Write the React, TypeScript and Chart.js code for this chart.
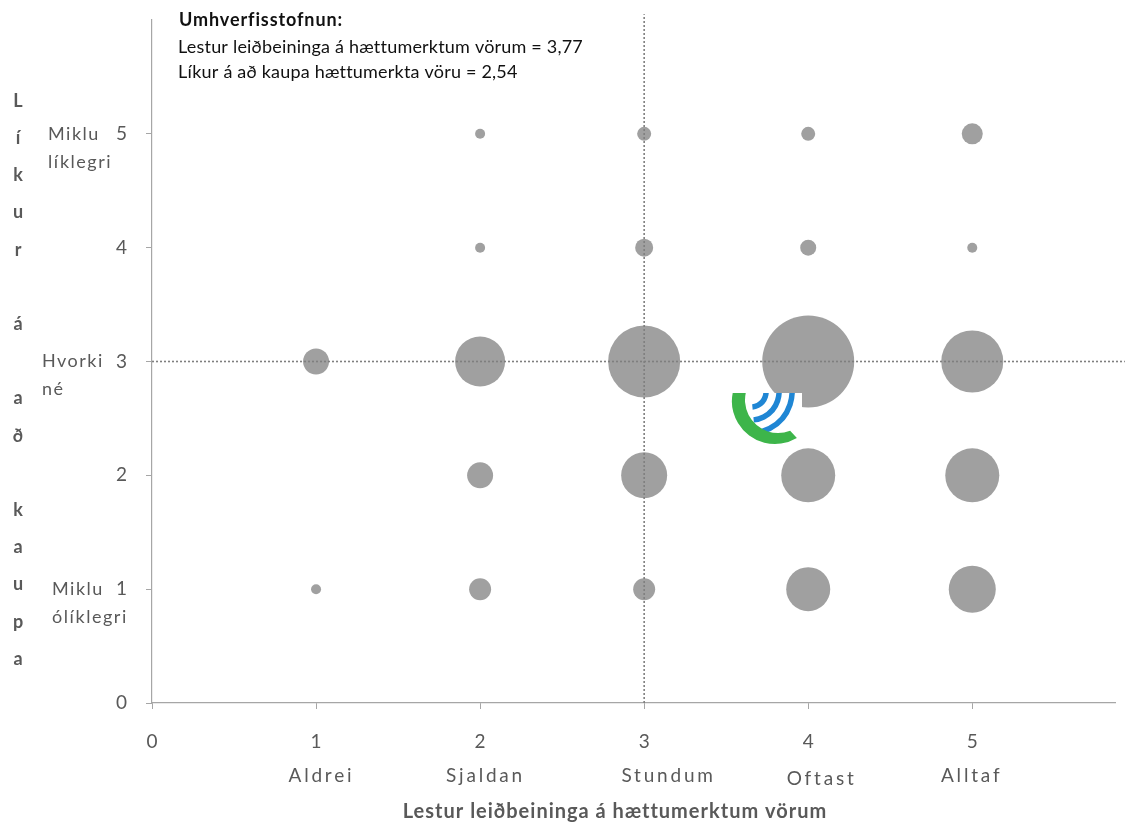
import React, { useEffect, useRef } from 'react';
import { Chart, registerables } from 'chart.js';

Chart.register(...registerables);

// ---- data ----
const readingX = [1, 1, 2, 2, 2, 2, 2, 3, 3, 3, 3, 3, 4, 4, 4, 4, 4, 5, 5, 5, 5, 5];
const buyingY = [3, 1, 5, 4, 3, 2, 1, 5, 4, 3, 2, 1, 5, 4, 3, 2, 1, 5, 4, 3, 2, 1];
const bubbleRadius = [13, 5, 5, 5, 25, 13, 11, 7, 9, 36, 23, 11, 7, 8, 46, 27, 22, 10.5, 5, 31, 27, 23.5];

const readingCategories = ['Aldrei', 'Sjaldan', 'Stundum', 'Oftast', 'Alltaf'];
const readingCategoryValues = [1, 2, 3, 4, 5];
const buyingLabelValues = [5, 3, 1];
const buyingLabelLines = [['Miklu', 'líklegri'], ['Hvorki', 'né'], ['Miklu', 'ólíklegri']];

const verticalRefX = [3, 3];
const verticalRefY = [0, 6.05];
const horizontalRefX = [0, 5.93];
const horizontalRefY = [3, 3];

const xAxisMin = 0;
const xAxisMax = 5.87;
const yAxisMin = 0;
const yAxisMax = 6;
const lastTick = 5;

const annotationTitle = 'Umhverfisstofnun:';
const annotationLines = [
  'Lestur leiðbeininga á hættumerktum vörum = 3,77',
  'Líkur á að kaupa hættumerkta vöru = 2,54',
];
const xAxisTitle = 'Lestur leiðbeininga á hættumerktum vörum';
const yAxisTitle = 'Líkur á að kaupa';

const FONT = 'Lato';
const GREY_TEXT = '#595959';

// text-box nudges (pixels) of the category captions, as placed in the original
const captionDx = [4, 4, 23, 12, -2];
const captionDy = [0, 0, 0, 3, 0];

const textPlugin = {
  id: 'textPlugin',
  afterDraw(chart: any) {
    const { ctx, scales } = chart;
    ctx.save();
    ctx.fillStyle = GREY_TEXT;
    ctx.font = `19px ${FONT}`;
    ctx.letterSpacing = '2.8px';
    ctx.textAlign = 'center';
    ctx.textBaseline = 'middle';
    readingCategories.forEach((name, i) => {
      const px = scales.x.getPixelForValue(readingCategoryValues[i]);
      ctx.fillText(name, px + captionDx[i] + 1.4, 776 + captionDy[i]);
    });
    ctx.textAlign = 'left';
    ctx.letterSpacing = '1.5px';
    const lefts = [48, 42, 52];
    buyingLabelValues.forEach((v, i) => {
      const py = scales.y.getPixelForValue(v);
      ctx.font = `18px ${FONT}`;
      ctx.fillText(buyingLabelLines[i][0], lefts[i], py);
      ctx.fillText(buyingLabelLines[i][1], lefts[i], py + 28);
    });
    ctx.font = `bold 20px ${FONT}`;
    ctx.letterSpacing = '1px';
    ctx.textAlign = 'center';
    ctx.fillText(xAxisTitle, 615, 812);
    ctx.letterSpacing = '0px';
    ctx.font = `bold 18px ${FONT}`;
    const chars = Array.from(yAxisTitle);
    chars.forEach((c, i) => {
      if (c !== ' ') ctx.fillText(c, 18, 101 + i * 37.2);
    });
    ctx.textAlign = 'left';
    ctx.fillStyle = '#111111';
    ctx.font = `bold 18px ${FONT}`;
    ctx.letterSpacing = '0.9px';
    ctx.fillText(annotationTitle, 179, 20);
    ctx.font = `18px ${FONT}`;
    ctx.letterSpacing = '0.2px';
    annotationLines.forEach((l, i) => ctx.fillText(l, 178, 47 + i * 25));
    ctx.restore();
  },
};

const logoPlugin = {
  id: 'logoPlugin',
  afterDatasetsDraw(chart: any) {
    const { ctx } = chart;
    ctx.save();
    ctx.fillStyle = '#ffffff';
    ctx.fillRect(729, 393, 73, 52);
    ctx.beginPath();
    ctx.rect(729, 393, 73, 54);
    ctx.clip();
    ctx.strokeStyle = '#1f86d4';
    ctx.lineWidth = 5.5;
    ctx.lineCap = 'butt';
    [15, 28, 41].forEach((r) => {
      ctx.beginPath();
      ctx.arc(751, 392, r, -0.15 * Math.PI, 0.47 * Math.PI, false);
      ctx.stroke();
    });
    ctx.fillStyle = '#3db54a';
    ctx.beginPath();
    ctx.arc(775, 401, 43, 0.33 * Math.PI, 1.1 * Math.PI, false);
    ctx.arc(778, 400, 33, 1.1 * Math.PI, 0.38 * Math.PI, true);
    ctx.closePath();
    ctx.fill();
    ctx.restore();
  },
};

function keepIntegerTicks(scale: any) {
  scale.ticks = scale.ticks.filter((t: any) => Number.isInteger(t.value) && t.value <= lastTick);
}

export default function App() {
  const ref = useRef<HTMLCanvasElement | null>(null);
  useEffect(() => {
    document.body.style.margin = '0';
    if (!ref.current) return;
    const refStyle = {
      borderColor: '#7f7f7f',
      borderWidth: 1.6,
      borderDash: [2, 2],
      pointRadius: 0,
      fill: false,
      clip: false as any,
      showLine: true,
    };
    const chart = new Chart(ref.current, {
      type: 'bubble',
      data: {
        datasets: [
          {
            type: 'line',
            data: verticalRefX.map((x, i) => ({ x, y: verticalRefY[i] })),
            ...refStyle,
          } as any,
          {
            type: 'line',
            data: horizontalRefX.map((x, i) => ({ x, y: horizontalRefY[i] })),
            ...refStyle,
          } as any,
          {
            type: 'bubble',
            data: readingX.map((x, i) => ({ x, y: buyingY[i], r: bubbleRadius[i] })),
            backgroundColor: '#a0a0a0',
            borderWidth: 0,
            hoverRadius: 0,
            clip: false,
          } as any,
        ],
      },
      options: {
        animation: false,
        responsive: false,
        events: [],
        layout: { autoPadding: false, padding: { top: 20, right: 13, bottom: 0, left: 0 } },
        plugins: { legend: { display: false }, tooltip: { enabled: false } },
        scales: {
          x: {
            type: 'linear',
            min: xAxisMin,
            max: xAxisMax,
            afterBuildTicks: keepIntegerTicks,
            afterFit: (s: any) => { s.height = 130; s.paddingLeft = 0; s.paddingRight = 0; },
            ticks: { stepSize: 1, color: GREY_TEXT, font: { family: FONT, size: 19 }, padding: 21 },
            grid: { drawOnChartArea: false, tickLength: 6, color: '#a6a6a6' },
            border: { color: '#a6a6a6', width: 1.2 },
          },
          y: {
            type: 'linear',
            min: yAxisMin,
            max: yAxisMax,
            afterBuildTicks: keepIntegerTicks,
            afterFit: (s: any) => { s.width = 152; s.paddingTop = 0; s.paddingBottom = 0; },
            ticks: { stepSize: 1, color: GREY_TEXT, font: { family: FONT, size: 19 }, padding: 19 },
            grid: { drawOnChartArea: false, tickLength: 6, color: '#a6a6a6' },
            border: { color: '#a6a6a6', width: 1.2 },
          },
        },
      } as any,
      plugins: [logoPlugin, textPlugin],
    });
    return () => chart.destroy();
  }, []);
  return (
    <div style={{ position: 'absolute', left: 0, top: 0, width: 1128, height: 833, background: '#fff' }}>
      <canvas ref={ref} width={1128} height={833} style={{ width: 1128, height: 833, display: 'block' }} />
    </div>
  );
}
